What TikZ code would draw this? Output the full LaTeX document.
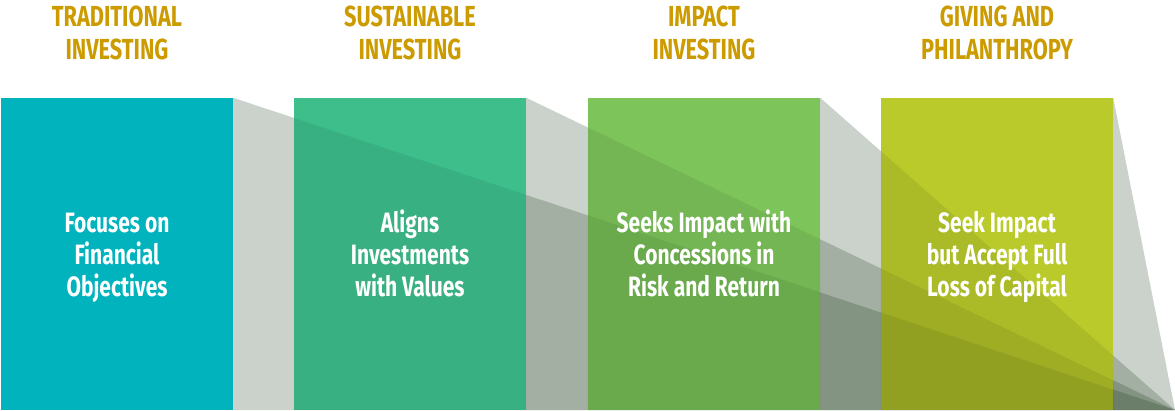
\documentclass[tikz,border=0pt]{standalone}
\usepackage{fontspec}
\newfontfamily\condfont[FakeStretch=0.75]{Fira Sans}
\newcommand\upperstrut{\rule{0pt}{28.8pt}}
\newcommand\lowerstrut{\rule[-8pt]{0pt}{8pt}}
\definecolor{boxA}{RGB}{0,179,189}
\definecolor{boxB}{RGB}{61,190,139}
\definecolor{boxC}{RGB}{125,196,90}
\definecolor{boxD}{RGB}{185,202,42}
\definecolor{wedgegray}{RGB}{19,51,19}
\definecolor{titlegold}{RGB}{204,155,0}
\pgfdeclarelayer{bg}
\pgfdeclarelayer{shade}
\pgfdeclarelayer{fg}
\pgfsetlayers{bg,main,shade,fg}
\begin{document}
\begin{tikzpicture}[x=1pt,y=-1pt,
  stagebox/.style={minimum width=232pt,minimum height=312pt,inner sep=0pt},
  stagetext/.style={inner sep=0pt,text=white,align=center,
    font=\condfont\bfseries\fontsize{28}{31.7}\selectfont},
  stagetitle/.style={inner sep=0pt,text=titlegold,align=center,
    font=\condfont\bfseries\fontsize{29}{33}\selectfont},
  wedge/.style={fill=wedgegray,fill opacity=0.22},
  wedgeshade/.style={fill=black,fill opacity=0.07}]
\useasboundingbox (0,0) rectangle (1175,410);
\node[stagebox,fill=boxA] (r1) at (117,254) {};
\node[stagebox,fill=boxB] (r2) at (410,254) {};
\node[stagebox,fill=boxC] (r3) at (704,254) {};
\node[stagebox,fill=boxD] (r4) at (997,254) {};
\coordinate (apex) at (1175,410);
\begin{pgfonlayer}{bg}
\fill[wedge] (r1.north east) -- (r1.south east) -- (apex) -- cycle;
\fill[wedge] (r2.north east) -- (r2.south east) -- (apex) -- cycle;
\fill[wedge] (r3.north east) -- (r3.south east) -- (apex) -- cycle;
\fill[wedge] (r4.north east) -- (r4.south east) -- (apex) -- cycle;
\end{pgfonlayer}
\begin{pgfonlayer}{shade}
\begin{scope}
\clip (r2.south west) rectangle (r2.north east)
      (r3.south west) rectangle (r3.north east)
      (r4.south west) rectangle (r4.north east);
\fill[wedgeshade] (r1.north east) -- (r1.south east) -- (apex) -- cycle;
\fill[wedgeshade] (r2.north east) -- (r2.south east) -- (apex) -- cycle;
\fill[wedgeshade] (r3.north east) -- (r3.south east) -- (apex) -- cycle;
\end{scope}
\end{pgfonlayer}
\begin{pgfonlayer}{fg}
\node[stagetext] (s1) at (r1.center) {\upperstrut Focuses on\\Financial\\Objectives\lowerstrut};
\node[stagetext] (s2) at (r2.center) {\upperstrut Aligns\\Investments\\with Values\lowerstrut};
\node[stagetext] (s3) at (r3.center) {\upperstrut Seeks Impact with\\Concessions in\\Risk and Return\lowerstrut};
\node[stagetext] (s4) at (r4.center) {\upperstrut Seek Impact\\but Accept Full\\Loss of Capital\lowerstrut};
\end{pgfonlayer}
\node[stagetitle] (t1) at (117,33.4) {TRADITIONAL\\INVESTING};
\node[stagetitle] (t2) at (410,33.4) {SUSTAINABLE\\INVESTING};
\node[stagetitle] (t3) at (704,33.4) {IMPACT\\INVESTING};
\node[stagetitle] (t4) at (997,33.4) {GIVING AND\\PHILANTHROPY};
\end{tikzpicture}
\end{document}
